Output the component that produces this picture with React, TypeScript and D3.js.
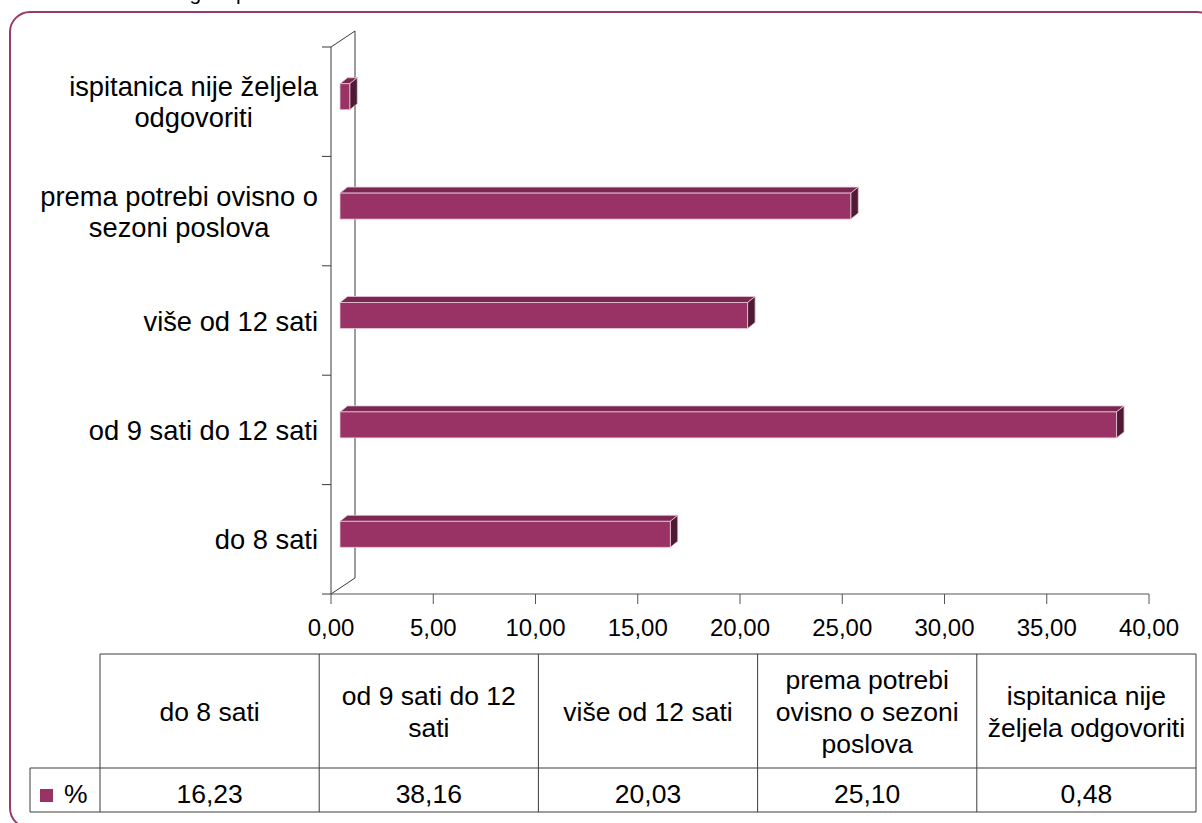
import React, { useMemo } from 'react';
import * as d3 from 'd3';

// ---- data ----
const categories: string[] = [
  'do 8 sati',
  'od 9 sati do 12 sati',
  'više od 12 sati',
  'prema potrebi ovisno o sezoni poslova',
  'ispitanica nije željela odgovoriti',
];
const values: number[] = [16.23, 38.16, 20.03, 25.1, 0.48];
const axisLabelLines: string[][] = [
  ['do 8 sati'],
  ['od 9 sati do 12 sati'],
  ['više od 12 sati'],
  ['prema potrebi ovisno o', 'sezoni poslova'],
  ['ispitanica nije željela', 'odgovoriti'],
];
const tableHeaderLines: string[][] = [
  ['do 8 sati'],
  ['od 9 sati do 12', 'sati'],
  ['više od 12 sati'],
  ['prema potrebi', 'ovisno o sezoni', 'poslova'],
  ['ispitanica nije', 'željela odgovoriti'],
];
const xTicks: number[] = [0, 5, 10, 15, 20, 25, 30, 35, 40];
const seriesName = '%';
const titleText = 'Koliko dugo u poslu radite dnevno';

// ---- style ----
const FONT = '"Liberation Sans", Arial, sans-serif';
const FRONT = '#993366';
const TOP = '#7a2851';
const SIDE = '#4e1a34';
const AXIS = '#3a3a3a';

const fmt = (v: number) => d3.format('.2f')(v).replace('.', ',');

function measure(text: string, size: number): number {
  if (typeof document === 'undefined') return text.length * size * 0.5;
  const c = document.createElement('canvas').getContext('2d');
  if (!c) return text.length * size * 0.5;
  c.font = `${size}px "Liberation Sans", Arial, sans-serif`;
  return c.measureText(text).width;
}

export default function App() {
  const W = 1202;
  const H = 823;

  // plot geometry
  const plotLeft = 331;
  const plotRight = 1149;
  const plotTop = 47;
  const plotBottom = 594;
  const depthX = 24;
  const depthY = -16;

  const xAxis = d3.scaleLinear().domain([0, 40]).range([plotLeft, plotRight]);
  const xBar = d3.scaleLinear().domain([0, 40]).range([340, 1154]);
  const yBand = d3
    .scaleBand<string>()
    .domain([...categories].reverse())
    .range([plotTop, plotBottom])
    .padding(0);
  const bw = yBand.bandwidth();

  const barH = 26;
  const bdx = 7.5;
  const bdy = -6;

  const labelSize = 27.3;
  const tickSize = 24;
  const tableSize = 26.5;

  const labelWidths = useMemo(
    () => axisLabelLines.map((lines) => Math.max(...lines.map((l) => measure(l, labelSize)))),
    []
  );

  // table geometry
  const tLeft = 30;
  const tColStart = 100;
  const tRight = 1196;
  const tTop = 654;
  const tMid = 768;
  const tBottom = 812;
  const tCol = d3.scaleBand<string>().domain(categories).range([tColStart, tRight]).padding(0);

  const bandEdges = [...yBand.domain().map((d) => yBand(d) as number), plotBottom];

  return (
    <svg
      width={W}
      height={H}
      style={{ position: 'absolute', left: 0, top: 0, background: '#fff' }}
      fontFamily={FONT}
    >
      <rect x={0} y={0} width={W} height={H} fill="#fff" />
      {/* title, cut off by the top edge as in the original */}
      <text x={103} y={0} fontSize={21} fill="#000">
        {titleText}
      </text>
      {/* outer rounded border */}
      <rect x={10} y={12} width={1207} height={816} rx={20} ry={20} fill="none" stroke="#9b3a6a" strokeWidth={2} />

      {/* 3D wall lines */}
      <line x1={plotLeft + depthX} y1={plotTop + depthY} x2={plotLeft + depthX} y2={plotBottom + depthY} stroke={AXIS} strokeWidth={1} />
      <line x1={plotLeft} y1={plotTop} x2={plotLeft + depthX} y2={plotTop + depthY} stroke={AXIS} strokeWidth={1} />
      <line x1={plotLeft} y1={plotBottom} x2={plotLeft + depthX} y2={plotBottom + depthY} stroke={AXIS} strokeWidth={1} />
      <line x1={plotLeft} y1={plotTop} x2={plotLeft} y2={plotBottom} stroke={AXIS} strokeWidth={1} />
      {/* category ticks */}
      {bandEdges.map((e, i) => (
        <line key={'ct' + i} x1={plotLeft - 9} x2={plotLeft} y1={e} y2={e} stroke={AXIS} strokeWidth={1} />
      ))}
      {/* x axis */}
      <line x1={plotLeft} x2={plotRight} y1={plotBottom} y2={plotBottom} stroke="#555" strokeWidth={1} />
      {xTicks.map((t) => (
        <g key={'xt' + t}>
          <line x1={xAxis(t)} x2={xAxis(t)} y1={plotBottom} y2={plotBottom + 10} stroke="#555" strokeWidth={1} />
          <text x={xAxis(t)} y={636} fontSize={tickSize} textAnchor="middle" fill="#000">
            {fmt(t)}
          </text>
        </g>
      ))}

      {/* bars */}
      {categories.map((c, i) => {
        const yc = (yBand(c) as number) + bw / 2 - 5;
        const x0 = xBar(0);
        const x1 = xBar(values[i]);
        const y0 = yc - barH / 2;
        const y1 = yc + barH / 2;
        const top = `${x0},${y0} ${x0 + bdx},${y0 + bdy} ${x1 + bdx},${y0 + bdy} ${x1},${y0}`;
        const side = `${x1},${y0} ${x1 + bdx},${y0 + bdy} ${x1 + bdx},${y1 + bdy} ${x1},${y1}`;
        return (
          <g key={'b' + i}>
            <polygon points={top} fill={TOP} stroke="#e9c6d7" strokeWidth={0.8} strokeLinejoin="round" />
            <polygon points={side} fill={SIDE} stroke="#e9c6d7" strokeWidth={0.8} strokeLinejoin="round" />
            <rect x={x0} y={y0} width={x1 - x0} height={y1 - y0} fill={FRONT} stroke="#e9c6d7" strokeWidth={0.8} />
          </g>
        );
      })}

      {/* category labels */}
      {categories.map((c, i) => {
        const lines = axisLabelLines[i];
        const cy = (yBand(c) as number) + bw / 2;
        const cx = 318 - labelWidths[i] / 2;
        return (
          <text key={'cl' + i} fontSize={labelSize} textAnchor="middle" fill="#000">
            {lines.map((l, j) => (
              <tspan key={j} x={cx} y={cy + 10 + (j - (lines.length - 1) / 2) * 31}>
                {l}
              </tspan>
            ))}
          </text>
        );
      })}

      {/* data table */}
      <g stroke="#3c3c3c" strokeWidth={1} fill="none">
        <line x1={tColStart} x2={tRight} y1={tTop} y2={tTop} />
        <line x1={tLeft} x2={tRight} y1={tMid} y2={tMid} />
        <line x1={tLeft} x2={tRight} y1={tBottom} y2={tBottom} />
        <line x1={tLeft} x2={tLeft} y1={tMid} y2={tBottom} />
        {[...categories.map((c) => tCol(c) as number), tRight].map((x, i) => (
          <line key={'tv' + i} x1={x} x2={x} y1={tTop} y2={tBottom} />
        ))}
      </g>
      {categories.map((c, i) => {
        const lines = tableHeaderLines[i];
        const cx = (tCol(c) as number) + tCol.bandwidth() / 2;
        const cy = (tTop + tMid) / 2;
        return (
          <g key={'th' + i}>
            <text fontSize={tableSize} textAnchor="middle" fill="#000">
              {lines.map((l, j) => (
                <tspan key={j} x={cx} y={cy + 10 + (j - (lines.length - 1) / 2) * 32}>
                  {l}
                </tspan>
              ))}
            </text>
            <text x={cx} y={803} fontSize={tableSize} textAnchor="middle" fill="#000">
              {fmt(values[i])}
            </text>
          </g>
        );
      })}
      <rect x={40} y={789} width={13} height={13} fill={FRONT} />
      <text x={64} y={803} fontSize={tableSize} fill="#000">
        {seriesName}
      </text>
    </svg>
  );
}
